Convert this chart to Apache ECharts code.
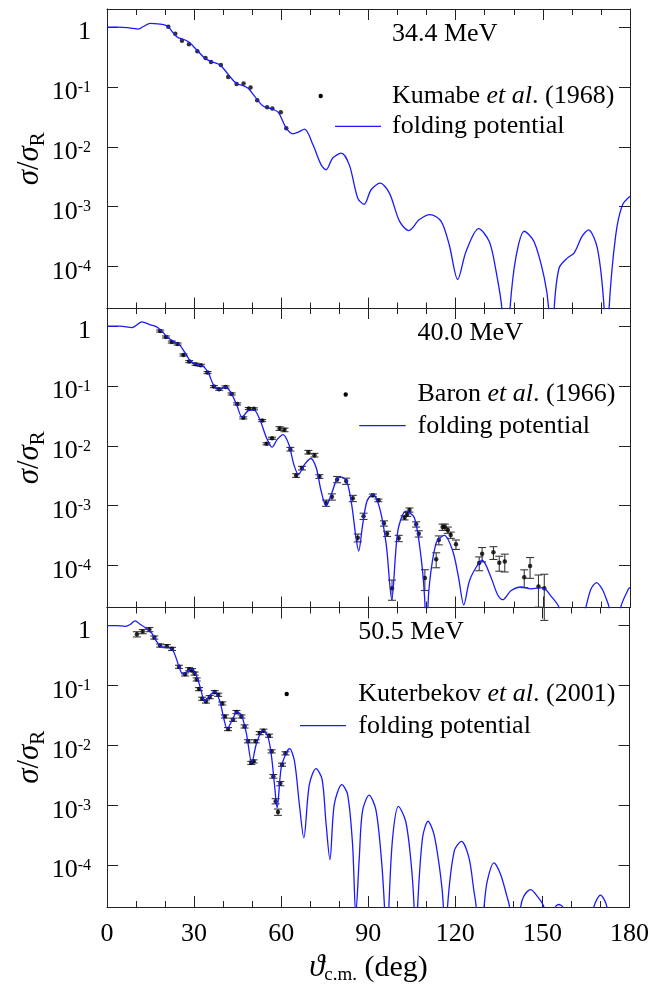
<!DOCTYPE html>
<html><head><meta charset="utf-8">
<script src="https://cdn.jsdelivr.net/npm/echarts@6/dist/echarts.min.js"></script>
<style>html,body{margin:0;padding:0;background:#fff}#c{width:652px;height:986px}</style>
</head><body><div id="c"></div>
<script>
// ---------- Panel 1: 34.4 MeV ----------
const c1x = [0,4,7,9,10.9,12.5,14.9,17.5,20,21.1,24,26.9,28.3,30.9,33.7,36,38.3,40,42.3,44.6,46.9,48.6,50.9,53.7,56.6,58.9,61.7,64,66,68,70.9,73.7,75.4,77.7,80.6,83.4,86.3,88.5,90.9,94,97.2,100.7,103.9,107.5,111.2,115,117.8,120.7,123.6,127.9,131.6,133.9,135.9,137.3,138.7,140.7,143.6,147,150.5,152,153,153.9,155.6,158.5,160.8,163.5,165.7,168.8,171.1,172,172.8,175.1,177.4,180];
const c1y = [1,1,0.98,0.95,0.925,1.02,1.15,1.13,1.08,1.01,0.69,0.607,0.555,0.414,0.30,0.264,0.242,0.205,0.149,0.114,0.105,0.095,0.069,0.048,0.043,0.038,0.0205,0.0165,0.0178,0.0197,0.0108,0.005,0.00414,0.0065,0.00783,0.005,0.00139,0.0011,0.00192,0.00248,0.00169,5.7e-4,4.0e-4,6.1e-4,7.4e-4,5.7e-4,2.3e-4,6.1e-5,1.8e-4,4.3e-4,2.6e-4,8.4e-5,2e-5,1e-6,2e-5,1.4e-4,3.9e-4,2.6e-4,6.5e-5,2e-5,1e-6,2e-5,9.5e-5,1.4e-4,1.7e-4,3.2e-4,4.1e-4,2.0e-4,2e-5,1e-6,2e-5,3.4e-4,1.07e-3,1.5e-3];
const p1x = [21.1,23.5,25.8,28.2,31.1,33.9,35.8,39.2,41.7,44.6,47.0,49.4,51.7,55.1,56.9,59.8,61.7];
const p1y = [1.01,0.774,0.592,0.514,0.393,0.304,0.261,0.233,0.147,0.112,0.114,0.0975,0.060,0.0458,0.0435,0.0378,0.0205];

// ---------- Panel 2: 40.0 MeV ----------
const c2x = [0,4.6,8.6,12,14.9,17.1,18.9,21.1,23.4,25.1,26.9,28.6,30.9,33.1,34.9,36.6,38.5,40.6,42.5,44.6,46.5,48.6,50.5,52.6,54.9,56.8,58.6,60.6,62.6,64.3,65.9,68,70.1,72,73.7,75.4,77.4,79.1,80.6,82.5,84.2,85.7,86.6,88,89.5,91.5,93.8,96.1,98,100.1,102.9,105.8,108.1,109.3,110,110.8,113.3,116.1,119,121,122.8,124.7,127,129.1,132.2,134.4,136.2,139,142.5,145.9,149.9,152.8,155.6,160,164.8,166.5,168.5,170.5,171.7,172.8,174.8,176.8,179.5,180];
const c2y = [1,1,0.94,1.17,1.05,0.97,0.815,0.63,0.535,0.476,0.355,0.264,0.227,0.213,0.165,0.105,0.0869,0.096,0.0794,0.0489,0.030,0.0388,0.0398,0.0275,0.0136,0.0095,0.0128,0.0154,0.0105,0.00489,0.00333,0.00489,0.00615,0.0043,0.00176,0.00099,0.00165,0.00275,0.003,0.00258,0.00105,2.9e-4,1.75e-4,4.9e-4,1.2e-3,1.55e-3,9.3e-4,2.27e-4,2.7e-5,3.8e-4,8.1e-4,6.3e-4,1.36e-4,3e-5,5e-6,4e-5,2.4e-4,3.2e-4,1.75e-4,6.3e-5,2.2e-5,5.5e-5,9.3e-5,1.23e-4,6.3e-5,3.3e-5,2.7e-5,3.8e-5,4.4e-5,4.1e-5,4.3e-5,3.1e-5,2e-5,3e-6,2e-5,4e-5,5.2e-5,4e-5,2.9e-5,2e-5,3e-6,2e-5,4.1e-5,4.3e-5];
const p2x = [18.3,20.3,22.3,24.3,26.3,28.3,30.5,32.3,34.6,36.8,38.6,40.8,42.9,44.8,46.9,48.8,50.6,53.4,54.9,56.8,59.4,61.1,63.1,65.1,67.1,69.3,71.4,73.1,75.4,77.4,79.2,82.3,84.6,86.3,88.3,91.5,93.4,95.3,96.4,98.1,100.4,102.4,103.3,104.1,106.4,107.3,109.4,113.3,114.2,115.5,116.3,117.3,118.3,120.1,128.1,129.1,133.0,135.0,136.9,143.6,145.6,148.5,150.5];
const p2y = [0.826,0.656,0.541,0.501,0.329,0.255,0.230,0.221,0.167,0.0975,0.088,0.0962,0.0736,0.0501,0.0293,0.0419,0.0414,0.0264,0.0108,0.0134,0.0195,0.0185,0.0088,0.0032,0.00425,0.00784,0.00699,0.00308,0.00111,0.00141,0.00275,0.00258,0.00133,2.93e-4,6.7e-4,1.49e-3,1.23e-3,5.08e-4,3.41e-4,4.19e-5,2.86e-4,6.3e-4,7.2e-4,8.5e-4,4.89e-4,3.41e-4,6.2e-5,1.28e-4,2.68e-4,4.4e-4,4.4e-4,3.93e-4,3.24e-4,2.27e-4,1.11e-4,1.58e-4,1.67e-4,1.12e-4,1.17e-4,6.4e-5,9.9e-5,4.5e-5,4.2e-5];
const p2e = [0.04,0.04,0.04,0.04,0.04,0.04,0.04,0.04,0.04,0.04,0.04,0.04,0.04,0.04,0.04,0.04,0.04,0.04,0.04,0.04,0.07,0.07,0.07,0.07,0.07,0.07,0.07,0.07,0.12,0.12,0.12,0.12,0.12,0.15,0.12,0.05,0.05,0.1,0.1,0.37,0.12,0.08,0.08,0.08,0.1,0.12,0.38,0.28,0.17,0.12,0.12,0.12,0.12,0.18,0.26,0.27,0.24,0.28,0.33,0.33,0.38,0.55,0.71];

// ---------- Panel 3: 50.5 MeV ----------
const c3x = [0,3.4,6.3,8,9.7,11.4,13.1,15.4,17.1,18.9,21.1,22.9,24.6,26.1,27.7,29.1,30.9,32.2,33.7,35.4,37.1,38.9,40.2,41.4,43.2,44.8,46.3,48,49.9,51.4,53.7,55.4,56.6,57.7,58.6,60,61.7,62.9,64.6,66.3,67.8,69.7,72,74.1,75.4,76.8,78.3,80.9,82.9,84.6,85.7,86.9,88,90.3,92.6,94.4,95.6,96.4,97.1,98.4,100.4,102.9,104.7,105.8,106.4,107,108.7,110.6,112.7,115,115.9,116.6,117.3,119.6,122.1,124.7,126.4,127.2,128.5,129.9,131,133.3,135.6,137.9,138.7,140.5,142.5,143.6,145.9,148.2,150.5,152.5,154.5,155.6,157,162,167.7,168.8,170,171.4,172.2,176,180];
const c3y = [1,1,0.97,1.04,1.2,1.05,0.93,0.745,0.541,0.441,0.43,0.369,0.221,0.154,0.171,0.19,0.141,0.0903,0.054,0.0673,0.0794,0.054,0.0285,0.019,0.0268,0.036,0.032,0.016,0.0051,0.0103,0.018,0.0141,0.007,0.0022,9e-4,0.0042,0.0074,0.0088,0.0054,0.001,2.86e-4,0.0022,0.0041,0.0027,5.4e-4,1.24e-4,1.03e-3,0.0022,0.0015,2.2e-4,1.5e-5,1.3e-4,7.9e-4,1.47e-3,8.5e-4,1.5e-4,2e-5,2e-6,2e-5,2.86e-4,9.6e-4,5.4e-4,1.17e-4,2e-5,2e-6,2e-5,2.86e-4,5.4e-4,3.2e-4,6.2e-5,2e-5,2e-6,2e-5,1.7e-4,2.5e-4,1.32e-4,3.7e-5,2e-5,2e-6,2e-5,5.4e-5,1.09e-4,7e-5,2.86e-5,2e-5,2e-6,2e-5,3.04e-5,3.9e-5,3.04e-5,2e-5,3e-6,2e-5,2.2e-5,2e-5,2e-6,2e-5,2.7e-5,3.16e-5,2.6e-5,2e-5,2e-6,5e-6];
const p3x = [10.3,12.3,14.6,16.3,18.3,20.6,22.4,24.8,26.9,28.3,29.3,30.2,30.9,31.7,32.8,34.1,35.4,37.1,38.3,39.7,40.6,41.7,43.4,44.6,46.3,47.4,48.6,49.7,50.5,51.2,52.6,53.9,55.8,56.7,57.3,58.1,58.9,59.7,60.3,61.5];
const p3y = [0.717,0.794,0.858,0.631,0.464,0.453,0.408,0.205,0.153,0.187,0.18,0.158,0.126,0.0869,0.060,0.054,0.064,0.0774,0.0699,0.0501,0.0304,0.0187,0.0268,0.036,0.0304,0.0207,0.0117,0.0051,0.0054,0.0117,0.016,0.0176,0.0145,0.00794,0.00304,0.00117,0.00077,0.0023,0.00476,0.00736];
const p3e = [0.1,0.08,0.08,0.06,0.06,0.06,0.06,0.06,0.06,0.06,0.06,0.06,0.06,0.06,0.06,0.06,0.06,0.06,0.06,0.06,0.06,0.06,0.06,0.06,0.06,0.06,0.06,0.06,0.06,0.06,0.06,0.06,0.06,0.06,0.07,0.1,0.12,0.08,0.06,0.06];

const titles = ['34.4 MeV','40.0 MeV','50.5 MeV'];
const refs = [['Kumabe','(1968)'],['Baron','(1966)'],['Kuterbekov','(2001)']];
const curveName = 'folding potential';
</script>
<script>
const FONT = "'Liberation Serif','DejaVu Serif','Times New Roman',serif";
const chart = echarts.init(document.getElementById('c'));
const gridTops = [9, 308, 607.5];
const GH = 299.5;
const AX = '#222', TK = '#222';
const curves = [[c1x,c1y],[c2x,c2y],[c3x,c3y]];
const pts = [[p1x,p1y,null],[p2x,p2y,p2e],[p3x,p3y,p3e]];

function yFmt(v){
  const l = Math.log10(v); const e = Math.round(l);
  if (Math.abs(l-e) > 1e-6) return '';
  return e === 0 ? '{b|1}' : '{b|10}{s|' + e + '}';
}

const grid = [], xAxis = [], yAxis = [], series = [];
for (let i = 0; i < 3; i++) {
  grid.push({left:107, width:523, top:gridTops[i], height:GH});
  const xa = (pos, lab) => ({
    gridIndex:i, type:'value', min:0, max:180, interval:30, position:pos,
    axisLine:{show:true, onZero:false, lineStyle:{color:AX, width:1}},
    axisTick:{show:true, inside:true, length:11, lineStyle:{color:TK, width:1}},
    minorTick:{show:true, splitNumber:3, length:6, lineStyle:{color:TK, width:1}},
    splitLine:{show:false},
    axisLabel:{show:lab, fontFamily:FONT, fontSize:26, color:'#000', margin:14}
  });
  xAxis.push(xa('bottom', i === 2));
  xAxis.push(xa('top', false));
  const ya = (pos, lab) => ({
    gridIndex:i, type:'log', min:2e-5, max:2, position:pos,
    axisLine:{show:true, onZero:false, lineStyle:{color:AX, width:1}},
    axisTick:{show:true, inside:true, length:11, lineStyle:{color:TK, width:1}},
    splitLine:{show:false},
    axisLabel:{show:lab, formatter:yFmt, margin:16, padding:[11,0,0,0],
      rich:{
        b:{fontFamily:FONT, fontSize:26, color:'#000'},
        s:{fontFamily:FONT, fontSize:16, color:'#000', verticalAlign:'top'}
      }}
  });
  yAxis.push(ya('left', true));
  yAxis.push(ya('right', false));

  const [cx, cy] = curves[i];
  series.push({
    type:'line', xAxisIndex:2*i, yAxisIndex:2*i, name:curveName,
    data: cx.map((x,k) => [x, cy[k]]), symbol:'none', smooth:0.3, clip:true,
    lineStyle:{color:'#1a1aff', width:1.3}, silent:true
  });
  const [px, py, pe] = pts[i];
  if (pe) {
    series.push({
      type:'custom', xAxisIndex:2*i, yAxisIndex:2*i, clip:false, silent:true,
      data: px.map((x,k) => [x, py[k], py[k]*(1-pe[k]), py[k]*(1+pe[k])]),
      encode:{x:0, y:1},
      renderItem: function(params, api){
        const x = api.value(0);
        const lo = api.coord([x, api.value(2)]);
        const hi = api.coord([x, api.value(3)]);
        const hw = 4;
        const st = {stroke:'#3a3a3a', lineWidth:1.1};
        return {type:'group', children:[
          {type:'line', shape:{x1:lo[0], y1:lo[1], x2:hi[0], y2:hi[1]}, style:st},
          {type:'line', shape:{x1:lo[0]-hw, y1:lo[1], x2:lo[0]+hw, y2:lo[1]}, style:st},
          {type:'line', shape:{x1:hi[0]-hw, y1:hi[1], x2:hi[0]+hw, y2:hi[1]}, style:st}
        ]};
      }
    });
  }
  series.push({
    type:'scatter', xAxisIndex:2*i, yAxisIndex:2*i, name:refs[i][0],
    data: px.map((x,k) => [x, py[k]]), symbol:'circle', symbolSize:4.5,
    itemStyle:{color:'#000'}, silent:true, clip:false
  });
}

// legends, annotations and axis titles
const leg = [
  {tx:392, ty:34.5, ly1:96, ly2:126.3, dotX:320.7, lx1:335, lx2:381},
  {tx:417.5, ty:333, ly1:394.5, ly2:425.7, dotX:345.7, lx1:359.3, lx2:405.7},
  {tx:358.3, ty:632, ly1:694, ly2:725.7, dotX:286.7, lx1:300, lx2:346}
];
const graphic = [];
const rn = {n:{fontFamily:FONT, fontSize:26, fill:'#000'}, i:{fontFamily:FONT, fontSize:26, fontStyle:'italic', fill:'#000'}};
const yTitleRich = {
  i:{fontFamily:FONT, fontStyle:'italic', fontSize:31, fill:'#000', lineHeight:38},
  n:{fontFamily:FONT, fontSize:31, fill:'#000', lineHeight:38},
  s:{fontFamily:FONT, fontSize:21, fill:'#000', verticalAlign:'bottom', lineHeight:21}
};
leg.forEach((L, i) => {
  graphic.push({type:'text', x:L.tx, y:L.ty, style:{text:titles[i], font:"26px "+FONT, fill:'#000', verticalAlign:'middle', align:'left'}});
  graphic.push({type:'text', x:L.tx, y:L.ly1, style:{text:'{n|'+refs[i][0]+' }{i|et al}{n|. '+refs[i][1]+'}', rich:rn, verticalAlign:'middle', align:'left'}});
  graphic.push({type:'text', x:L.tx, y:L.ly2, style:{text:curveName, font:"26px "+FONT, fill:'#000', verticalAlign:'middle', align:'left'}});
  graphic.push({type:'circle', shape:{cx:L.dotX, cy:L.ly1, r:2.2}, style:{fill:'#000'}});
  graphic.push({type:'line', shape:{x1:L.lx1, y1:L.ly2, x2:L.lx2, y2:L.ly2}, style:{stroke:'#1a1aff', lineWidth:1.3}});
  graphic.push({type:'text', x:30, y:gridTops[i] + GH/2, rotation:Math.PI/2,
    style:{text:'{i|σ}{n|/}{i|σ}{s|R}', rich:yTitleRich, align:'center', verticalAlign:'middle'}});
});
graphic.push({type:'text', x:368.5, y:968, style:{
  text:'{i|ϑ}{s|c.m.}{n| (deg)}', align:'center', verticalAlign:'middle',
  rich:{
    i:{fontFamily:FONT, fontStyle:'italic', fontSize:31, fill:'#000', lineHeight:34},
    s:{fontFamily:FONT, fontSize:19, fill:'#000', verticalAlign:'bottom', lineHeight:19},
    n:{fontFamily:FONT, fontSize:30, fill:'#000', lineHeight:34}
  }}});

chart.setOption({
  animation:false, backgroundColor:'#fff',
  grid, xAxis, yAxis, series, graphic
});
</script>
</body></html>
